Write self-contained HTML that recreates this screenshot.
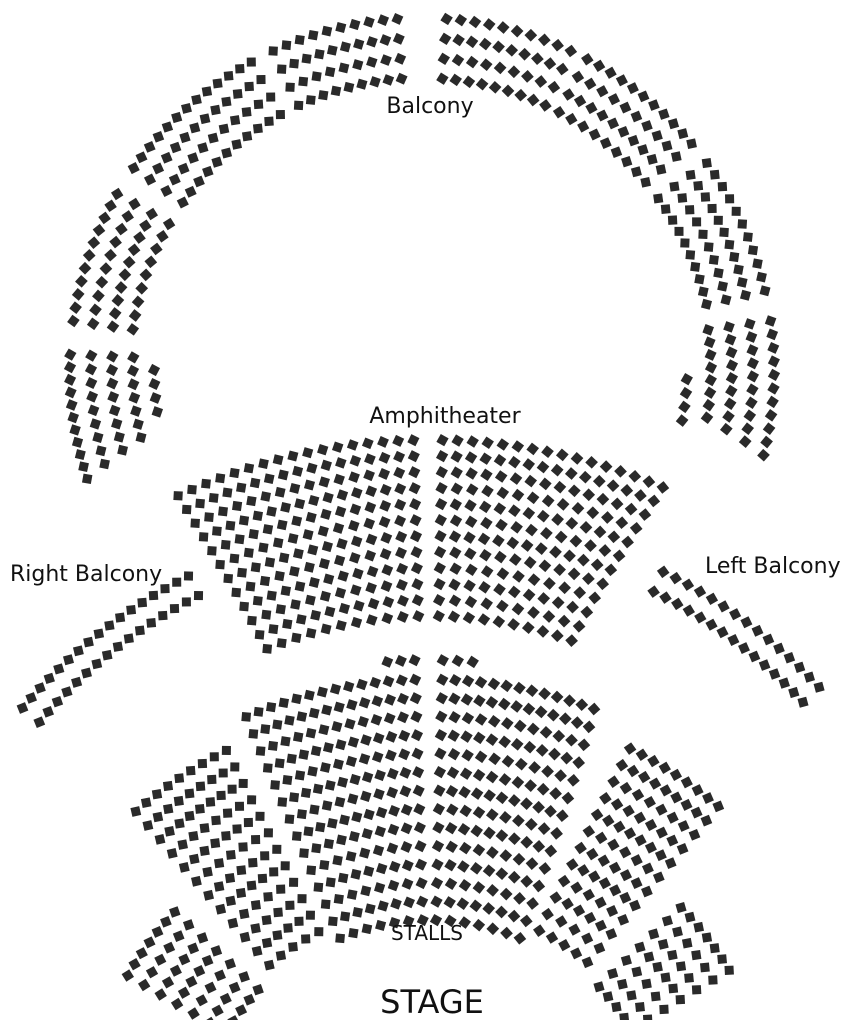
<!DOCTYPE html>
<html><head><meta charset="utf-8"><style>
html,body{margin:0;padding:0;background:#fff;}
svg{display:block;}
text{font-family:"DejaVu Sans","Liberation Sans",sans-serif;fill:#111;}
</style></head><body>
<svg id="s" width="860" height="1020" viewBox="0 0 860 1020" xmlns="http://www.w3.org/2000/svg">
<g id="seats" fill="#2a2a2a"></g>
<text x="430" y="113" font-size="22" text-anchor="middle">Balcony</text>
<text x="445" y="423" font-size="22" text-anchor="middle">Amphitheater</text>
<text x="10" y="581" font-size="22">Right Balcony</text>
<text x="705" y="573" font-size="22">Left Balcony</text>
<text x="427" y="940" font-size="20" text-anchor="middle">STALLS</text>
<text x="432" y="1013" font-size="32" text-anchor="middle">STAGE</text>
</svg>
<script>
var g=document.getElementById('seats'),out='';
function arc(cx,cy,r,a0,a1,sp,sz){
  sz=sz||9;
  var lo=Math.min(a0,a1),hi=Math.max(a0,a1);
  var len=r*(hi-lo)*Math.PI/180;
  var n=Math.floor(len/sp)+1;
  var step=n>1?(hi-lo)/(n-1):0;
  for(var i=0;i<n;i++){
    var a=lo+step*i,ar=a*Math.PI/180;
    var x=cx+r*Math.sin(ar),y=cy-r*Math.cos(ar);
    out+='<rect x="'+(x-sz/2).toFixed(1)+'" y="'+(y-sz/2).toFixed(1)+'" width="'+sz+'" height="'+sz+'" transform="rotate('+(a+28).toFixed(1)+' '+x.toFixed(1)+' '+y.toFixed(1)+')"/>';
  }
}
// Balcony
var bx=422,by=370;
[[-4,-25],[-29,-55],[-60,-82],[4,25],[28,50],[54,77]].forEach(function(s){for(var k=0;k<4;k++)arc(bx,by,352-k*20,s[0],s[1],13);});
for(var k=0;k<4;k++)arc(bx,by,352-k*21,-87.5,-108+k*1.5,12.5);
arc(bx,by,268,-90,-99,12.5);
for(var k=0;k<4;k++)arc(bx,by,352-k*21,82,104-k*1.5,12.5);
arc(bx,by,265,92,101,12.5);
// Side balconies
arc(430,1050,510,-27,-50,13);arc(430,1050,532,-27,-50,13);
arc(430,1050,510,26,47,13);arc(430,1050,532,26,47,13);
// Amphitheater
for(var k=0;k<12;k++){var r=596-k*16;arc(430,1036,r,-1.6,-25+k*0.2,14.5);arc(430,1036,r,1.2,23-k*0.3,14.5);}
// Stalls
var cx=430,cy=1150;
for(var k=0;k<14;k++){var r=230+k*18.5;
  arc(cx,cy,r,-1.8,-23,12.5);
  arc(cx,cy,r,1.5,23-k*0.2,12.5);
}
arc(cx,cy,490,-1.8,-5,12.5);arc(cx,cy,490,1.5,5,12.5);
for(var k=0;k<12;k++){var r=245+k*18.5;arc(cx,cy,r,-27,-41,12.5);arc(cx,cy,r,26.5,40,12.5);}
for(var k=0;k<7;k++){var r=235+k*19;arc(cx,cy,r,-47,-60,12.5);arc(cx,cy,r,46,59,12.5);}
g.innerHTML=out;
</script>
</body></html>
